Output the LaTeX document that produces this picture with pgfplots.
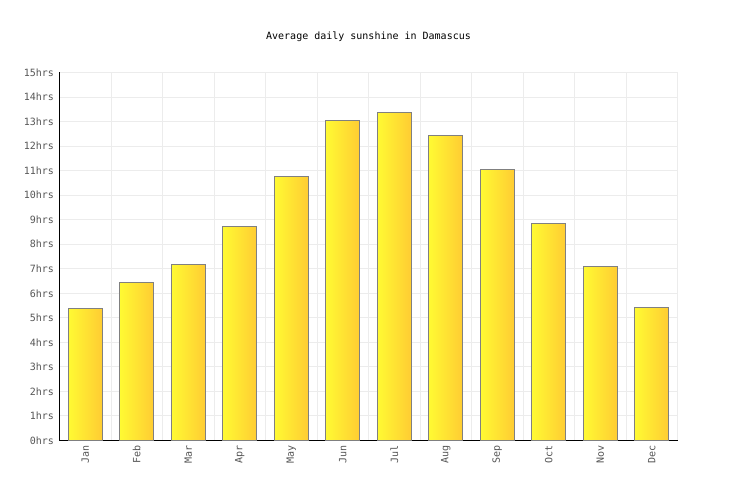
\documentclass[border=0pt]{standalone}
\usepackage{pgfplots}
\pgfplotsset{compat=1.18}
\usepackage{fontspec}
\setmainfont{DejaVu Sans Mono}
\definecolor{barleft}{RGB}{255,250,51}
\definecolor{barright}{RGB}{255,204,51}
\definecolor{bardraw}{RGB}{128,128,128}
\definecolor{gridc}{RGB}{236,236,236}
\definecolor{ticktext}{RGB}{85,85,85}
\pgfplotsset{sunbar/.style={ybar, bar width=0.66, bar shift=0pt, draw=bardraw,
  line width=1bp, left color=barleft, right color=barright}}

\begin{document}
\fontsize{10bp}{12bp}\selectfont
\begin{tikzpicture}
\begin{axis}[
  name=ax,
  scale only axis,
  width=618bp, height=368bp,
  xmin=0, xmax=12, ymin=0, ymax=15,
  axis lines=left,
  axis line style={-, black, line width=1bp},
  xtick={0.5,1.5,...,11.5},
  xticklabels={Jan,Feb,Mar,Apr,May,Jun,Jul,Aug,Sep,Oct,Nov,Dec},
  minor xtick={0,1,...,12},
  ytick={0,1,...,15},
  yticklabels={0hrs,1hrs,2hrs,3hrs,4hrs,5hrs,6hrs,7hrs,8hrs,9hrs,10hrs,11hrs,12hrs,13hrs,14hrs,15hrs},
  major tick length=0pt, minor tick length=0pt,
  xminorgrids, ymajorgrids,
  grid style={gridc, line width=1bp},
  minor grid style={gridc, line width=1bp},
  tick label style={font=\fontsize{10bp}{12bp}\selectfont, text=ticktext},
  xticklabel style={rotate=90, anchor=east, xshift=-1bp},
  yticklabel style={xshift=-2bp},
  /pgf/number format/assume math mode=true,
]
% one plot per month so that each bar gets its own gradient
\addplot[sunbar] coordinates {(0.5,5.37)};  % Jan
\addplot[sunbar] coordinates {(1.5,6.45)};  % Feb
\addplot[sunbar] coordinates {(2.5,7.16)};  % Mar
\addplot[sunbar] coordinates {(3.5,8.72)};  % Apr
\addplot[sunbar] coordinates {(4.5,10.76)}; % May
\addplot[sunbar] coordinates {(5.5,13.04)}; % Jun
\addplot[sunbar] coordinates {(6.5,13.38)}; % Jul
\addplot[sunbar] coordinates {(7.5,12.44)}; % Aug
\addplot[sunbar] coordinates {(8.5,11.06)}; % Sep
\addplot[sunbar] coordinates {(9.5,8.84)};  % Oct
\addplot[sunbar] coordinates {(10.5,7.08)}; % Nov
\addplot[sunbar] coordinates {(11.5,5.41)}; % Dec
\end{axis}
\node[anchor=center, font=\fontsize{10bp}{12bp}\selectfont] at ([yshift=35.5bp]ax.north) {Average daily sunshine in Damascus};
\path ([xshift=-59.5bp,yshift=-59.5bp]ax.south west) rectangle ([xshift=58.5bp,yshift=72.5bp]ax.north east);
\end{tikzpicture}
\end{document}
